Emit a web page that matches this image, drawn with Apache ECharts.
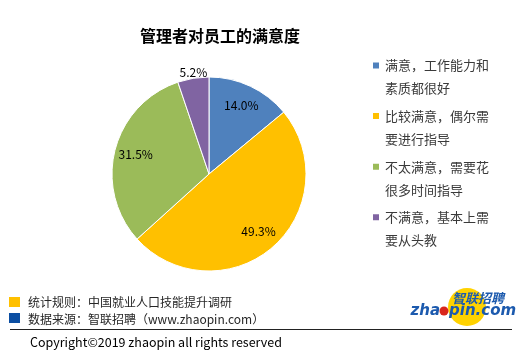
<!DOCTYPE html>
<html><head><meta charset="utf-8">
<script src="https://cdn.jsdelivr.net/npm/echarts@6/dist/echarts.min.js"></script>
<style>html,body{margin:0;padding:0;background:#fff}#c{width:521px;height:356px}</style>
</head><body><div id="c"></div>
<script>
const categories = ['满意，工作能力和素质都很好', '比较满意，偶尔需要进行指导', '不太满意，需要花很多时间指导', '不满意，基本上需要从头教'];
const values = [14.0, 49.3, 31.5, 5.2];
const colors = ['#4F81BD', '#FFC000', '#9BBB59', '#8064A2'];
const titleText = '管理者对员工的满意度';
const noteRule = '统计规则：中国就业人口技能提升调研';
const noteSource = '数据来源：智联招聘（www.zhaopin.com）';
const copyright = 'Copyright©2019 zhaopin all rights reserved';

const FONT = '"Noto Sans CJK SC", "Noto Sans", sans-serif';
const chart = echarts.init(document.getElementById('c'), null, {renderer: 'canvas'});
const center = [209, 174];
const R = 97;

const pieData = categories.map((n, i) => ({name: n, value: values[i], itemStyle: {color: colors[i]}}));
const labelData = categories.map((n, i) => {
  const d = {name: n, value: values[i]};
  if (i === 3) {
    d.label = {position: 'outside', distanceToLabelLine: 0};
    d.labelLine = {show: false, length: 0, length2: 0};
  }
  return d;
});

chart.setOption({
  animation: false,
  title: {
    text: titleText, left: 140, top: 28, padding: 0,
    textStyle: {fontFamily: FONT, fontSize: 16, fontWeight: 'bold', color: '#000'}
  },
  legend: {
    orient: 'vertical', left: 371, top: 31, padding: 0,
    itemWidth: 8, itemHeight: 8, itemGap: -18.4, icon: 'rect',
    data: categories,
    formatter: n => ' \n' + n.slice(0, 8) + '\n' + n.slice(8),
    textStyle: {fontFamily: FONT, fontSize: 13, color: '#3a3a3a', lineHeight: 23}
  },
  series: [
    {
      type: 'pie', center: center, radius: [0, R], startAngle: 90, clockwise: true,
      silent: true, label: {show: false}, labelLine: {show: false},
      itemStyle: {borderColor: '#fff', borderWidth: 1},
      data: pieData
    },
    {
      type: 'pie', center: center, radius: [R / 2, R], startAngle: 90, clockwise: true,
      silent: true, legendHoverLink: false,
      itemStyle: {color: 'rgba(0,0,0,0)'},
      label: {show: true, position: 'inside', formatter: p => p.value.toFixed(1) + '%',
        fontFamily: FONT, fontSize: 12, color: '#000'},
      labelLine: {show: false},
      labelLayout: p => p.dataIndex === 3 ? {dx: 14, dy: -6} : {},
      data: labelData
    }
  ],
  graphic: [
    {type: 'rect', shape: {x: 9, y: 297, width: 11, height: 10}, style: {fill: '#FFC000'}},
    {type: 'text', x: 28, y: 302, style: {text: noteRule, fontFamily: FONT, fontSize: 12, fill: '#262626', verticalAlign: 'middle'}},
    {type: 'rect', shape: {x: 9, y: 313, width: 11, height: 10}, style: {fill: '#0B4EA2'}},
    {type: 'text', x: 28, y: 319, style: {text: noteSource, fontFamily: FONT, fontSize: 12, fill: '#262626', verticalAlign: 'middle'}},
    {type: 'line', shape: {x1: 10, y1: 329.5, x2: 512, y2: 329.5}, style: {stroke: '#222', lineWidth: 1}},
    {type: 'text', x: 30, y: 342, style: {text: copyright, fontFamily: FONT, fontSize: 12.5, fill: '#000', verticalAlign: 'middle'}},
    {type: 'circle', shape: {cx: 467, cy: 307, r: 19}, style: {fill: '#FFD200'}},
    {type: 'text', x: 478, y: 298, style: {text: '智联招聘', fontFamily: FONT, fontSize: 13, fontWeight: 'bold', fontStyle: 'italic', fill: '#1C5AAE', align: 'center', verticalAlign: 'middle'}},
    {type: 'text', x: 440, y: 311, style: {text: 'zha', fontFamily: '"DejaVu Sans", sans-serif', fontSize: 15, fontWeight: 'bold', fontStyle: 'italic', fill: '#1C5AAE', align: 'right', verticalAlign: 'middle'}},
    {type: 'circle', shape: {cx: 444, cy: 311, r: 4.5}, style: {fill: '#D9261C'}},
    {type: 'text', x: 449, y: 311, style: {text: 'pin.com', fontFamily: '"DejaVu Sans", sans-serif', fontSize: 15, fontWeight: 'bold', fontStyle: 'italic', fill: '#1C5AAE', align: 'left', verticalAlign: 'middle'}}
  ]
});
</script></body></html>
